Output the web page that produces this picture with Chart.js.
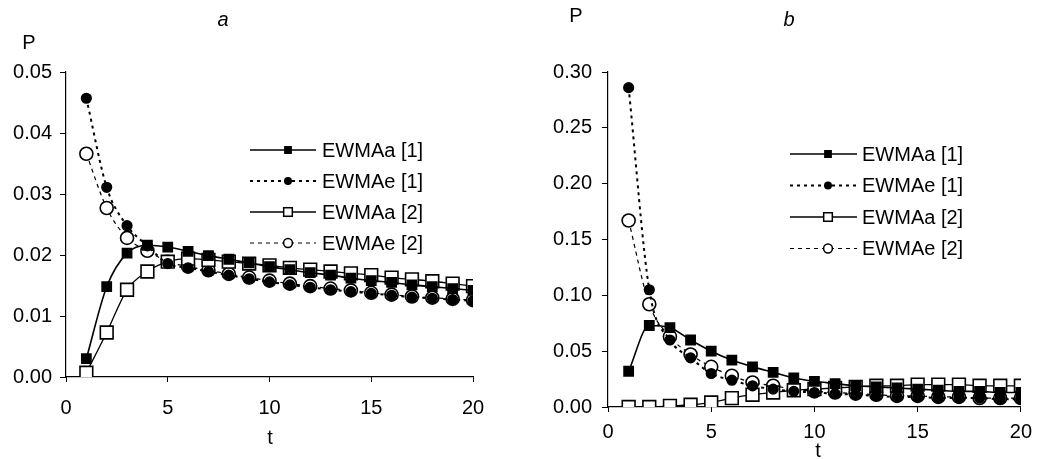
<!DOCTYPE html>
<html>
<head>
<meta charset="utf-8">
<script src="https://cdn.jsdelivr.net/npm/chart.js@4.4.1/dist/chart.umd.min.js"></script>
<style>
  body { margin: 0; background: #fff; }
  #page { position: relative; width: 1040px; height: 459px; font-family: "Liberation Sans", Arial, sans-serif; color: #000; }
  canvas { position: absolute; top: 0; }
  .lab { position: absolute; font-size: 20px; line-height: 20px; transform: translate(-50%, -50%); }
  .titre { font-style: italic; }
</style>
</head>
<body>
<div id="page">
  <canvas id="graphA" width="520" height="459" style="left:0"></canvas>
  <canvas id="graphB" width="520" height="459" style="left:520px"></canvas>
  <div class="lab titre" style="left:223px;top:19px">a</div>
  <div class="lab titre" style="left:789px;top:19px">b</div>
  <div class="lab" style="left:29px;top:42px">P</div>
  <div class="lab" style="left:576px;top:15px">P</div>
  <div class="lab" style="left:270px;top:437px">t</div>
  <div class="lab" style="left:818px;top:450px">t</div>
</div>
<script>
// donnees
const temps = [1, 2, 3, 4, 5, 6, 7, 8, 9, 10, 11, 12, 13, 14, 15, 16, 17, 18, 19, 20];
const noms = ["EWMAa [1]", "EWMAe [1]", "EWMAa [2]", "EWMAe [2]"];

// panneau a
const aEwmaa1 = [0.0030, 0.0148, 0.0203, 0.0216, 0.0213, 0.0206, 0.0199, 0.0193, 0.0187, 0.0181, 0.0176, 0.0171, 0.0167, 0.0162, 0.0158, 0.0155, 0.0151, 0.0148, 0.0145, 0.0142];
const aEwmae1 = [0.0457, 0.0311, 0.0248, 0.0215, 0.0186, 0.0179, 0.0173, 0.0167, 0.0161, 0.0156, 0.0151, 0.0147, 0.0143, 0.0140, 0.0137, 0.0134, 0.0131, 0.0129, 0.0127, 0.0125];
const aEwmaa2 = [0.0007, 0.0073, 0.0143, 0.0173, 0.0189, 0.0194, 0.0192, 0.0189, 0.0186, 0.0183, 0.0179, 0.0176, 0.0173, 0.0170, 0.0167, 0.0163, 0.0160, 0.0157, 0.0153, 0.0149];
const aEwmae2 = [0.0366, 0.0277, 0.0228, 0.0207, 0.0189, 0.0181, 0.0175, 0.0169, 0.0163, 0.0158, 0.0153, 0.0149, 0.0145, 0.0142, 0.0138, 0.0135, 0.0132, 0.0130, 0.0128, 0.0126];

// panneau b
const bEwmaa1 = [0.032, 0.073, 0.071, 0.060, 0.050, 0.042, 0.036, 0.031, 0.026, 0.023, 0.021, 0.019, 0.018, 0.017, 0.016, 0.015, 0.014, 0.014, 0.013, 0.013];
const bEwmae1 = [0.286, 0.105, 0.060, 0.044, 0.030, 0.024, 0.019, 0.016, 0.014, 0.013, 0.012, 0.011, 0.010, 0.009, 0.009, 0.008, 0.008, 0.008, 0.007, 0.007];
const bEwmaa2 = [0.000, 0.000, 0.001, 0.002, 0.004, 0.008, 0.011, 0.013, 0.015, 0.016, 0.017, 0.018, 0.019, 0.019, 0.020, 0.020, 0.020, 0.019, 0.019, 0.019];
const bEwmae2 = [0.167, 0.092, 0.063, 0.047, 0.036, 0.028, 0.022, 0.019, 0.016, 0.014, 0.013, 0.012, 0.011, 0.010, 0.010, 0.009, 0.009, 0.008, 0.008, 0.008];

const ticksA = [0, 0.01, 0.02, 0.03, 0.04, 0.05];
const ticksB = [0, 0.05, 0.10, 0.15, 0.20, 0.25, 0.30];

const police = '"Liberation Sans", Arial, sans-serif';

function styleSerie(i, grand) {
    const k = grand ? 1 : 0.85;
    const styles = [
        { pointStyle: "rect", pointRadius: 6.5 * k, pointBackgroundColor: "#000", borderDash: [], borderWidth: 1.6 },
        { pointStyle: "circle", pointRadius: 4.8 * k, pointBackgroundColor: "#000", borderDash: [3, 4], borderWidth: 2 },
        { pointStyle: "rect", pointRadius: 9 * k, pointBackgroundColor: "#fff", borderDash: [], borderWidth: 1.3 },
        { pointStyle: "circle", pointRadius: 6.5 * k, pointBackgroundColor: "#fff", borderDash: [4, 4], borderWidth: 1.2 }
    ];
    return styles[i];
}

function series(listes) {
    return listes.map((valeurs, i) => {
        const s = styleSerie(i, true);
        return {
            label: noms[i],
            data: temps.map((t, j) => ({ x: t, y: valeurs[j] })),
            borderColor: "#000",
            borderWidth: s.borderWidth,
            borderDash: s.borderDash,
            pointStyle: s.pointStyle,
            pointRadius: s.pointRadius,
            pointBackgroundColor: s.pointBackgroundColor,
            pointBorderColor: "#000",
            pointBorderWidth: 1.6,
            cubicInterpolationMode: "monotone",
            fill: false
        };
    });
}

// legende dessinee a la main : trait + marqueur + texte
const legendePlugin = {
    id: "legende",
    afterDraw(chart, args, opts) {
        const ctx = chart.ctx;
        chart.data.datasets.forEach((ds, i) => {
            const y = opts.y0 + i * opts.pas;
            const s = styleSerie(i, false);
            ctx.save();
            ctx.strokeStyle = "#000";
            ctx.lineWidth = s.borderWidth;
            ctx.setLineDash(s.borderDash);
            ctx.beginPath();
            ctx.moveTo(opts.x0, y);
            ctx.lineTo(opts.x1, y);
            ctx.stroke();
            ctx.setLineDash([]);
            ctx.fillStyle = s.pointBackgroundColor;
            ctx.lineWidth = 1.5;
            Chart.helpers.drawPoint(ctx, { pointStyle: s.pointStyle, radius: s.pointRadius * 0.8, borderWidth: 1.5, rotation: 0 }, opts.xm, y);
            ctx.fillStyle = "#000";
            ctx.font = "20px " + police;
            ctx.textBaseline = "middle";
            ctx.fillText(ds.label, opts.xt, y + 1);
            ctx.restore();
        });
    }
};

function creerGraphique(id, listes, maxY, pasY, cadre, leg) {
    return new Chart(document.querySelector(id), {
        type: "line",
        data: { datasets: series(listes) },
        options: {
            responsive: false,
            animation: false,
            layout: { padding: { left: 0, top: cadre.haut, right: cadre.droite, bottom: cadre.bas } },
            plugins: { legend: { display: false }, tooltip: { enabled: false }, legende: leg },
            scales: {
                x: {
                    type: "linear", min: 0, max: 20,
                    afterFit: (axe) => { axe.height = cadre.hx; },
                    border: { color: "#000", width: 1.2 },
                    grid: { drawOnChartArea: false, drawTicks: true, tickLength: 5, color: "#000" },
                    ticks: { stepSize: 5, color: "#000", font: { size: 20, family: police }, padding: cadre.padX, maxRotation: 0 }
                },
                y: {
                    min: 0, max: maxY,
                    afterFit: (axe) => { axe.width = cadre.gauche; },
                    border: { color: "#000", width: 1.2 },
                    grid: { drawOnChartArea: false, drawTicks: true, tickLength: 6, color: "#000" },
                    ticks: { stepSize: pasY, color: "#000", font: { size: 20, family: police }, padding: cadre.padY, callback: (v) => v.toFixed(2) }
                }
            }
        },
        plugins: [legendePlugin]
    });
}

creerGraphique("#graphA", [aEwmaa1, aEwmae1, aEwmaa2, aEwmae2], ticksA[ticksA.length - 1], 0.01,
    { gauche: 66, droite: 47, haut: 72, bas: 42, hx: 40, padX: 14, padY: 8 },
    { x0: 250, x1: 316, xm: 288, xt: 322, y0: 150, pas: 31 });

creerGraphique("#graphB", [bEwmaa1, bEwmae1, bEwmaa2, bEwmae2], ticksB[ticksB.length - 1], 0.05,
    { gauche: 88, droite: 17, haut: 72, bas: 12, hx: 40, padX: 8, padY: 10 },
    { x0: 270, x1: 337, xm: 308, xt: 342, y0: 154, pas: 31.5 });
</script>
</body>
</html>
